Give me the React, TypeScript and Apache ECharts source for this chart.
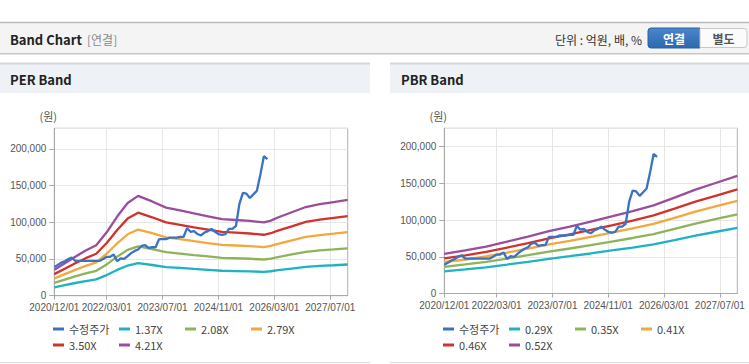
import React, { useEffect, useRef } from 'react';
import * as echarts from 'echarts';

// Monthly categories 2020/12/01 .. 2027/12/01
const months: string[] = (() => {
  const out: string[] = [];
  let y = 2020;
  let m = 12;
  for (let i = 0; i < 85; i++) {
    out.push(`${y}/${String(m).padStart(2, '0')}/01`);
    m++;
    if (m > 12) { m = 1; y++; }
  }
  return out;
})();

const tickLabels = ['2020/12/01', '2022/03/01', '2023/07/01', '2024/11/01', '2026/03/01', '2027/07/01'];

// 수정주가 (monthly from 2020/12)
const priceValues = [
  39000, 42000, 45000, 47000, 50000, 52000, 47500, 47500, 47500, 47500, 47500, 47500, 47500, 47500,
  50000, 53000, 53000, 56000, 47000, 51000, 50000, 54000, 58000, 61000, 63000, 68000, 69000, 65000,
  66000, 66000, 77000, 77000, 77000, 79000, 79000, 79000, 80000, 80000, 92000, 87000, 88000, 84000,
  82000, 86000, 88000, 91000, 87000, 84000, 83000, 84000, 91000, 91000, 95000, 125000, 140000, 139000,
  133000, 138000, 143000, 165000, 190000, 186000,
];

// PER band key months (index into months)
const perKeyIdx = [0, 3, 6, 9, 12, 15, 18, 21, 24, 28, 32, 36, 40, 44, 48, 52, 56, 60, 62, 64, 68, 72, 76, 80, 84];
const per137 = [11500, 14400, 17300, 20000, 22300, 28100, 35100, 41100, 44300, 41800, 39000, 37800, 36400, 35200, 34000, 33600, 33200, 32500, 33300, 34700, 37000, 39300, 40600, 41500, 42500];
const per208 = [17500, 21800, 26200, 30400, 33900, 42600, 53200, 62400, 67200, 63400, 59300, 57400, 55300, 53500, 51600, 51000, 50300, 49300, 50500, 52600, 56200, 59700, 61600, 63000, 64500];
const per279 = [23400, 29300, 35200, 40700, 45500, 57200, 71400, 83700, 90100, 85100, 79500, 77000, 74200, 71700, 69200, 68400, 67500, 66100, 67800, 70600, 75300, 80100, 82600, 84500, 86500];
const per350 = [29400, 36800, 44100, 51100, 57100, 71800, 89600, 105000, 113100, 106800, 99800, 96600, 93100, 90000, 86800, 85800, 84700, 83000, 85100, 88600, 94500, 100500, 103600, 106100, 108500];
const per421 = [35400, 44200, 53000, 61500, 68600, 86300, 107800, 126300, 136000, 128400, 120000, 116200, 112000, 108200, 104400, 103100, 101900, 99800, 102300, 106500, 113700, 120800, 124600, 127600, 130500];

// PBR band key months
const pbrKeyIdx = [0, 6, 12, 18, 24, 30, 36, 42, 48, 54, 60, 66, 72, 78, 84];
const pbr029 = [30200, 32800, 35700, 39400, 43200, 47300, 50800, 54500, 58600, 62600, 67000, 72800, 78900, 84100, 89300];
const pbr035 = [36400, 39600, 43100, 47600, 52200, 57100, 61300, 65800, 70700, 75600, 80900, 87900, 95200, 101500, 107800];
const pbr041 = [42600, 46300, 50400, 55800, 61100, 66800, 71800, 77100, 82800, 88600, 94700, 102900, 111500, 118900, 126300];
const pbr046 = [47800, 52000, 56600, 62600, 68500, 75000, 80500, 86500, 92900, 99400, 106300, 115500, 125100, 133400, 141700];
const pbr052 = [54100, 58800, 64000, 70700, 77500, 84800, 91000, 97800, 105000, 112300, 120100, 130500, 141400, 150800, 160200];

const perNames = ['1.37X', '2.08X', '2.79X', '3.50X', '4.21X'];
const pbrNames = ['0.29X', '0.35X', '0.41X', '0.46X', '0.52X'];
const priceName = '수정주가';

const bandColors = ['#1eb2c3', '#8db457', '#f2a83c', '#d1322c', '#9a4d9d'];
const priceColor = '#3a72c4';

const FONT = "'Liberation Sans', 'Noto Sans CJK KR', sans-serif";
const KFONT = "'Noto Sans CJK KR', 'Liberation Sans', sans-serif";

export default function App() {
  const ref = useRef<HTMLDivElement>(null);

  useEffect(() => {
    document.body.style.margin = '0';
    if (!ref.current) return;
    const chart = echarts.init(ref.current, undefined, { renderer: 'svg' });
    const tickSet = new Set(tickLabels);
    const showAt = (_i: number, v: string) => tickSet.has(v);

    const xAxisCfg = (gridIndex: number) => ({
      type: 'category',
      gridIndex,
      data: months,
      boundaryGap: false,
      axisLine: { lineStyle: { color: '#a9a9a9' } },
      axisTick: { show: true, interval: showAt, length: 4, lineStyle: { color: '#a9a9a9' } },
      axisLabel: { interval: showAt, color: '#555', fontSize: 10, margin: 7, fontFamily: FONT },
      splitLine: { show: true, interval: showAt, lineStyle: { color: '#e6e6e6' } },
    });

    const yAxisCfg = (gridIndex: number, max: number) => ({
      type: 'value',
      gridIndex,
      min: 0,
      max,
      interval: 50000,
      name: '(원)',
      nameLocation: 'end',
      nameGap: 7,
      nameTextStyle: { color: '#555', fontSize: 11, fontFamily: KFONT, padding: [0, 12, 0, 0] },
      axisLine: { show: true, lineStyle: { color: '#a9a9a9' } },
      axisTick: { show: true, length: 5, lineStyle: { color: '#a9a9a9' } },
      axisLabel: {
        color: '#555', fontSize: 10, margin: 8, fontFamily: FONT, showMaxLabel: false,
        formatter: (v: number) => (v % 50000 === 0 ? v.toLocaleString('en-US') : ''),
      },
      splitLine: { show: true, lineStyle: { color: '#e6e6e6' } },
    });

    const bandSeries = (names: string[], keyIdx: number[], arrs: number[][], axisIndex: number) =>
      names.map((name, k) => ({
        name,
        type: 'line',
        xAxisIndex: axisIndex,
        yAxisIndex: axisIndex,
        showSymbol: false,
        symbol: 'none',
        color: bandColors[k],
        lineStyle: { width: 2.3, color: bandColors[k] },
        data: keyIdx.map((ix, j) => [ix, arrs[k][j]]),
      }));

    const priceSeries = (axisIndex: number) => ({
      name: priceName,
      type: 'line',
      xAxisIndex: axisIndex,
      yAxisIndex: axisIndex,
      showSymbol: false,
      symbol: 'none',
      color: priceColor,
      z: 5,
      lineStyle: { width: 2.3, color: priceColor },
      data: priceValues,
    });

    const legendCfg = (left: number, names: string[]) => ({
      left,
      top: 323,
      width: 262,
      padding: 0,
      itemGap: 4,
      itemWidth: 11,
      itemHeight: 3,
      icon: 'rect',
      data: [priceName, ...names],
      textStyle: { fontSize: 11, color: '#444', width: 46, lineHeight: 12, fontFamily: KFONT },
    });

    const headerText = (text: string, x: number, y: number, extra: any = {}) => ({
      type: 'text',
      x,
      y,
      silent: true,
      style: {
        text,
        fill: '#222',
        font: `bold 13px ${KFONT}`,
        verticalAlign: 'middle',
        align: 'left',
        ...extra,
      },
    });

    chart.setOption({
      animation: false,
      textStyle: { fontFamily: FONT },
      graphic: [
        // top header bar
        { type: 'rect', shape: { x: 0, y: 22, width: 749, height: 31 }, style: { fill: '#f4f4f4' }, silent: true },
        { type: 'line', shape: { x1: 0, y1: 22.5, x2: 749, y2: 22.5 }, style: { stroke: '#b8b8b8', lineWidth: 1.5 }, silent: true },
        { type: 'line', shape: { x1: 0, y1: 53.5, x2: 749, y2: 53.5 }, style: { stroke: '#c6c6c6', lineWidth: 1 }, silent: true },
        { type: 'line', shape: { x1: 0, y1: 54.5, x2: 749, y2: 54.5 }, style: { stroke: '#e4e4e4', lineWidth: 1 }, silent: true },
        headerText('Band Chart', 10, 39),
        headerText('[연결]', 87, 39, { fill: '#8a8a8a', font: `12px ${KFONT}` }),
        headerText('단위 : 억원, 배, %', 642, 39, { fill: '#333', font: `12px ${KFONT}`, align: 'right' }),
        {
          type: 'rect',
          shape: { x: 648, y: 28, width: 52, height: 20, r: [3, 0, 0, 3] },
          style: {
            fill: new echarts.graphic.LinearGradient(0, 0, 0, 1, [
              { offset: 0, color: '#4a86c9' },
              { offset: 1, color: '#2c68ad' },
            ]),
            stroke: '#2a62a3',
            lineWidth: 1,
          },
          silent: true,
        },
        headerText('연결', 674, 38.5, { fill: '#ffffff', font: `bold 12px ${KFONT}`, align: 'center' }),
        {
          type: 'rect',
          shape: { x: 700, y: 28.5, width: 47, height: 19, r: [0, 3, 3, 0] },
          style: { fill: '#fbfbfb', stroke: '#c8c8c8', lineWidth: 1 },
          silent: true,
        },
        headerText('별도', 723.5, 38.5, { fill: '#555', font: `bold 12px ${KFONT}`, align: 'center' }),

        // panel headers
        { type: 'rect', shape: { x: 0, y: 63, width: 370, height: 30 }, style: { fill: '#eef1f6' }, silent: true },
        { type: 'line', shape: { x1: 0, y1: 63.5, x2: 370, y2: 63.5 }, style: { stroke: '#d4d7db', lineWidth: 2 }, silent: true },
        headerText('PER Band', 10, 79.5),
        { type: 'rect', shape: { x: 390, y: 63, width: 359, height: 30 }, style: { fill: '#eef1f6' }, silent: true },
        { type: 'line', shape: { x1: 390, y1: 63.5, x2: 749, y2: 63.5 }, style: { stroke: '#d4d7db', lineWidth: 2 }, silent: true },
        headerText('PBR Band', 401, 79.5),

        // panel bottoms
        { type: 'line', shape: { x1: 0, y1: 362.5, x2: 370, y2: 362.5 }, style: { stroke: '#d8d8d8', lineWidth: 1 }, silent: true },
        { type: 'line', shape: { x1: 390, y1: 362.5, x2: 749, y2: 362.5 }, style: { stroke: '#d8d8d8', lineWidth: 1 }, silent: true },
      ],
      grid: [
        { left: 54.3, right: 401.3, top: 128.3, bottom: 68.3, show: true, borderColor: '#b0b0b0', borderWidth: 1, backgroundColor: 'transparent', containLabel: false, outerBoundsMode: 'none' },
        { left: 444.3, right: 11.7, top: 128.3, bottom: 70.5, show: true, borderColor: '#b0b0b0', borderWidth: 1, backgroundColor: 'transparent', containLabel: false, outerBoundsMode: 'none' },
      ],
      xAxis: [xAxisCfg(0), xAxisCfg(1)],
      yAxis: [yAxisCfg(0, 228000), yAxisCfg(1, 225000)],
      legend: [legendCfg(53, perNames), legendCfg(443, pbrNames)],
      series: [
        ...bandSeries(perNames, perKeyIdx, [per137, per208, per279, per350, per421], 0),
        priceSeries(0),
        ...bandSeries(pbrNames, pbrKeyIdx, [pbr029, pbr035, pbr041, pbr046, pbr052], 1),
        priceSeries(1),
      ],
    });

    return () => chart.dispose();
  }, []);

  return <div ref={ref} style={{ width: 749, height: 364 }} />;
}
